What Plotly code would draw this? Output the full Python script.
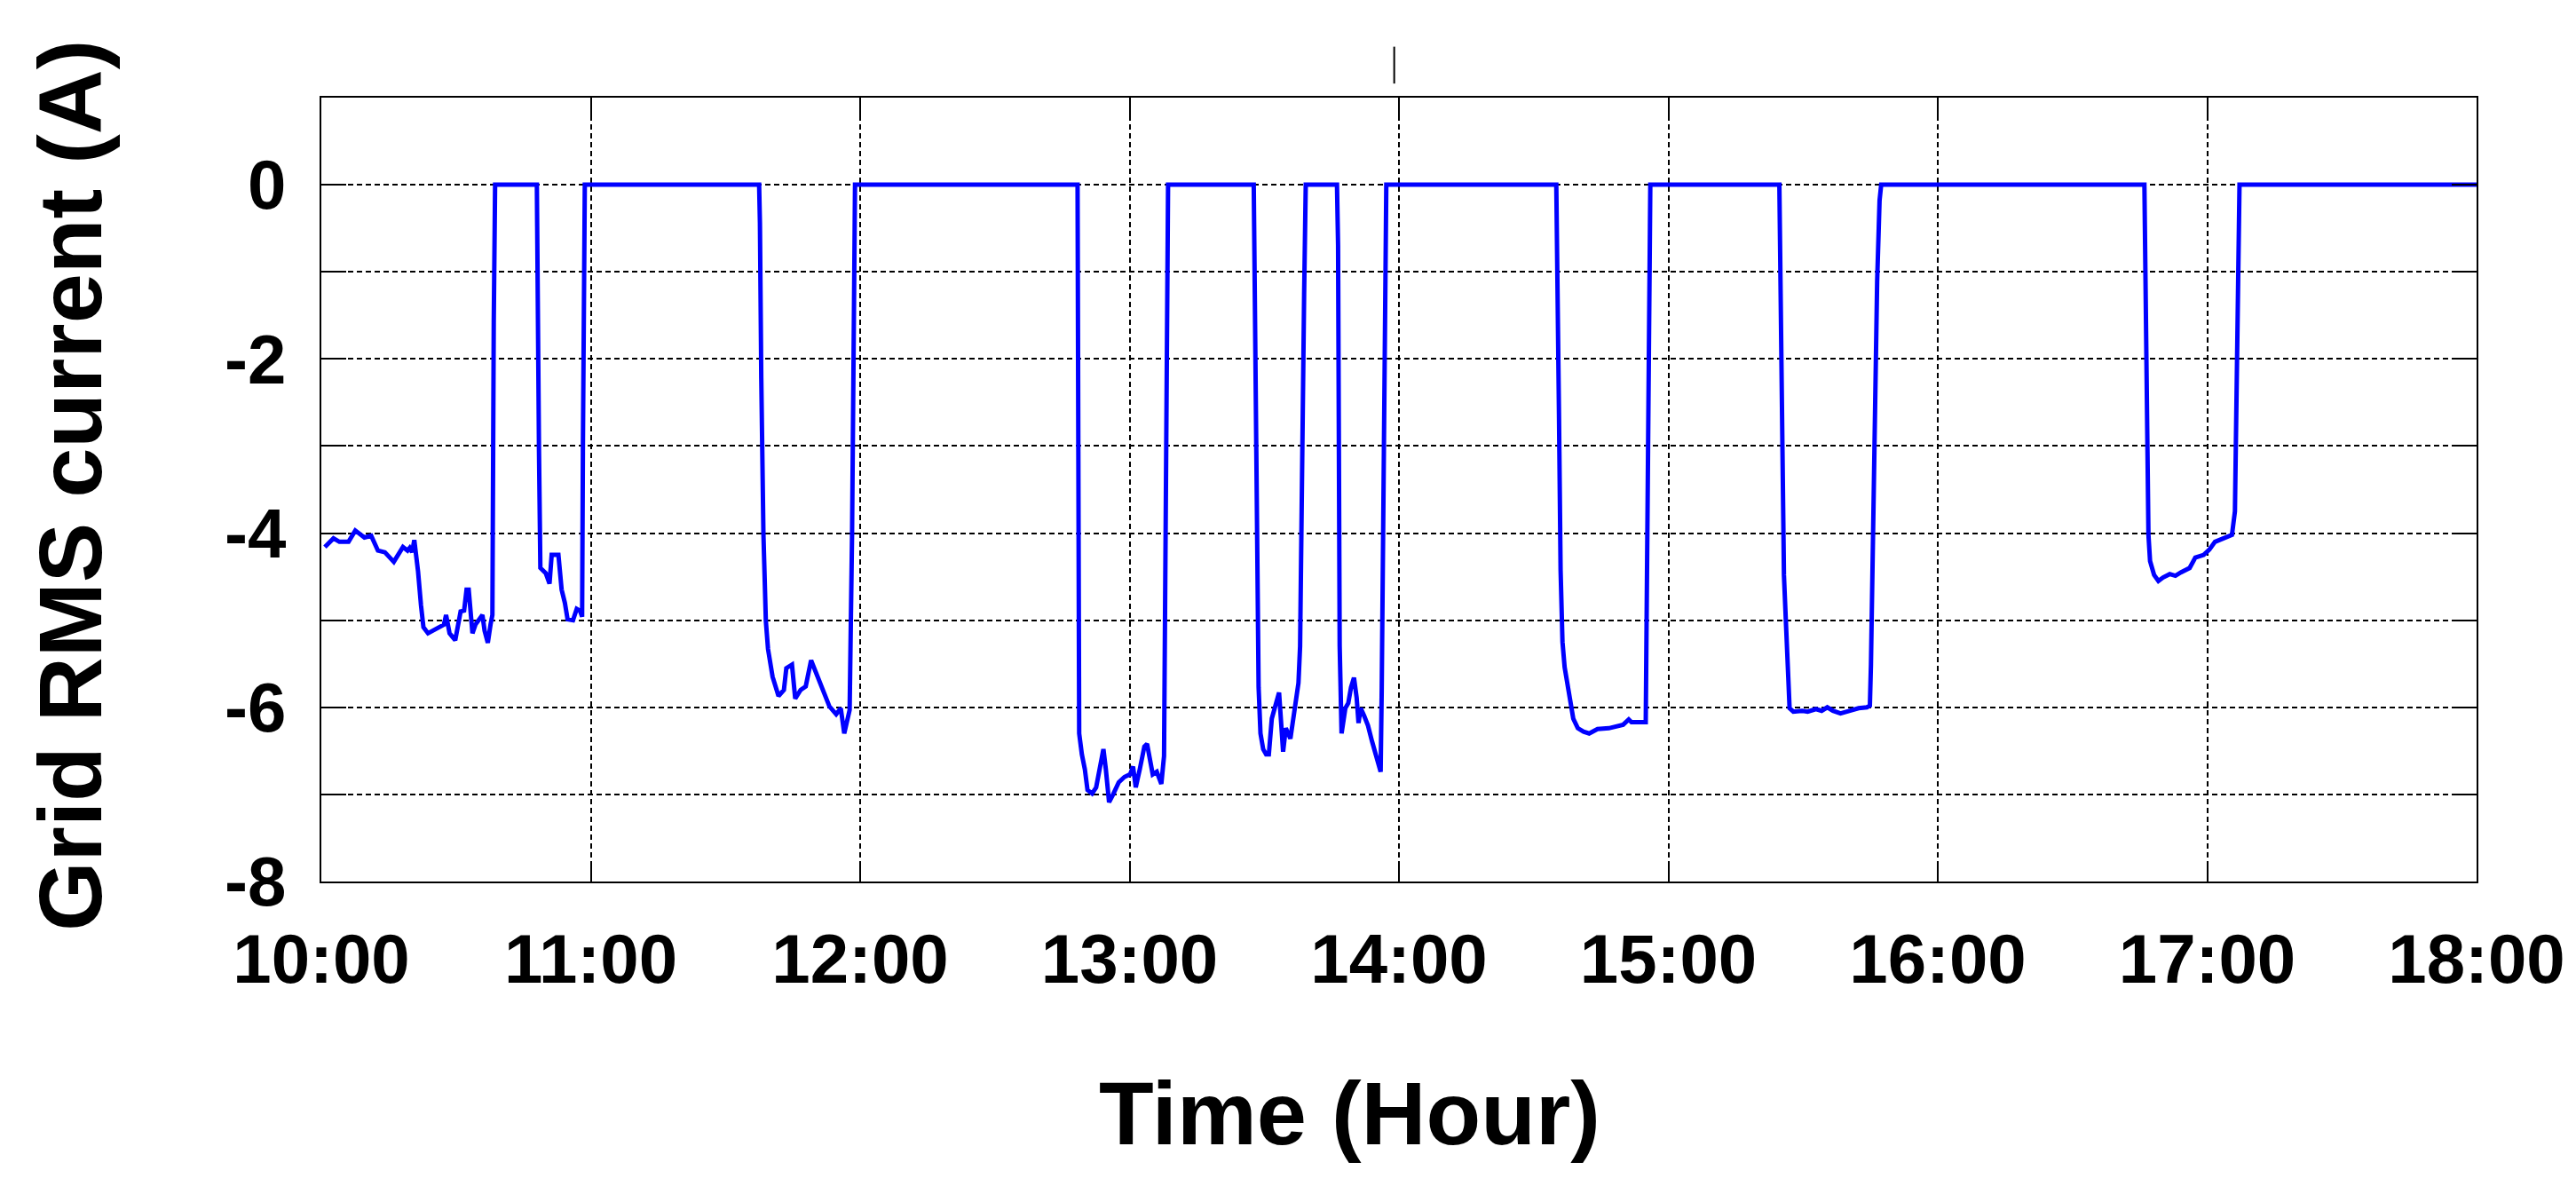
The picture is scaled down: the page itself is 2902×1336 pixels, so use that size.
import plotly.graph_objects as go

# grid current (A) vs time of day (hours), one list per discharge event
ev1_t = [10.013, 10.045, 10.067, 10.101, 10.126, 10.160, 10.185, 10.210, 10.236, 10.269,
         10.303, 10.320, 10.328, 10.337, 10.345, 10.359, 10.370, 10.379, 10.396, 10.429,
         10.455, 10.463, 10.476, 10.497, 10.517, 10.530, 10.539, 10.547, 10.561, 10.572,
         10.581, 10.598, 10.606, 10.618, 10.628, 10.635, 10.640, 10.645]
ev1_a = [-4.16, -4.06, -4.10, -4.10, -3.97, -4.05, -4.03, -4.20, -4.22, -4.33,
         -4.16, -4.20, -4.17, -4.22, -4.08, -4.44, -4.83, -5.08, -5.15, -5.10,
         -5.05, -4.94, -5.15, -5.23, -4.90, -4.89, -4.65, -4.65, -5.15, -5.05,
         -5.01, -4.94, -5.12, -5.26, -5.05, -4.94, -1.58, 0]

ev2_t = [10.800, 10.803, 10.808, 10.813, 10.833, 10.847, 10.855, 10.880, 10.892, 10.904,
         10.914, 10.934, 10.948, 10.960, 10.968, 10.971, 10.978]
ev2_a = [0, -1.51, -3.08, -4.40, -4.46, -4.58, -4.25, -4.25, -4.65, -4.80,
         -4.99, -5.00, -4.87, -4.89, -4.96, -2.97, 0]

ev3_t = [11.625, 11.628, 11.633, 11.641, 11.650, 11.658, 11.675, 11.697, 11.717, 11.726,
         11.747, 11.759, 11.779, 11.798, 11.818, 11.843, 11.869, 11.886, 11.911, 11.928,
         11.941, 11.953, 11.961, 11.970, 11.975, 11.981]
ev3_a = [0, -0.44, -2.22, -4.01, -5.01, -5.33, -5.65, -5.87, -5.80, -5.55,
         -5.51, -5.90, -5.80, -5.76, -5.46, -5.65, -5.83, -5.99, -6.08, -6.01,
         -6.30, -6.15, -6.03, -4.01, -1.89, 0]

ev4_t = [12.807, 12.809, 12.813, 12.823, 12.834, 12.844, 12.861, 12.876, 12.886, 12.903,
         12.912, 12.924, 12.939, 12.960, 12.981, 13.002, 13.013, 13.023, 13.038, 13.055,
         13.065, 13.076, 13.086, 13.101, 13.118, 13.128, 13.135, 13.143]
ev4_a = [0, -3.78, -6.30, -6.54, -6.71, -6.95, -6.99, -6.92, -6.77, -6.48,
         -6.71, -7.09, -7.00, -6.86, -6.80, -6.77, -6.68, -6.92, -6.71, -6.45,
         -6.42, -6.59, -6.77, -6.74, -6.88, -6.56, -4.10, 0]

ev5_t = [13.461, 13.465, 13.471, 13.479, 13.486, 13.496, 13.507, 13.517, 13.528, 13.543,
         13.555, 13.570, 13.580, 13.597, 13.612, 13.627, 13.633, 13.639, 13.648, 13.654]
ev5_a = [0, -1.14, -3.43, -5.77, -6.30, -6.48, -6.54, -6.54, -6.13, -5.98,
         -5.83, -6.51, -6.24, -6.36, -6.01, -5.72, -5.30, -3.28, -1.26, 0]

ev6_t = [13.770, 13.774, 13.780, 13.787, 13.801, 13.812, 13.822, 13.833, 13.843, 13.850,
         13.858, 13.871, 13.885, 13.900, 13.917, 13.932, 13.936, 13.942, 13.948, 13.953]
ev6_a = [0, -0.70, -5.30, -6.30, -6.01, -5.95, -5.77, -5.66, -5.89, -6.18,
         -6.01, -6.10, -6.21, -6.39, -6.56, -6.74, -5.80, -3.43, -1.03, 0]

ev7_t = [14.584, 14.586, 14.594, 14.600, 14.607, 14.615, 14.628, 14.638, 14.647, 14.664,
         14.685, 14.706, 14.737, 14.779, 14.811, 14.832, 14.853, 14.863, 14.916, 14.922,
         14.926, 14.933]
ev7_a = [0, -0.79, -2.64, -4.43, -5.25, -5.54, -5.77, -5.95, -6.13, -6.24,
         -6.28, -6.30, -6.25, -6.24, -6.21, -6.20, -6.14, -6.17, -6.17, -3.78,
         -1.52, 0]

ev8_t = [15.412, 15.416, 15.422, 15.429, 15.437, 15.443, 15.450, 15.464, 15.496, 15.517,
         15.548, 15.569, 15.590, 15.611, 15.639, 15.674, 15.706, 15.737, 15.748, 15.752,
         15.758, 15.765, 15.771, 15.775, 15.784, 15.790]
ev8_a = [0, -1.20, -2.84, -4.48, -5.07, -5.60, -6.01, -6.05, -6.04, -6.05,
         -6.02, -6.04, -6.00, -6.04, -6.07, -6.04, -6.01, -6.00, -5.98, -5.51,
         -4.31, -3.11, -2.05, -1.11, -0.18, 0]

ev9_t = [16.767, 16.771, 16.777, 16.782, 16.788, 16.803, 16.819, 16.836, 16.861, 16.882,
         16.903, 16.935, 16.956, 16.987, 17.008, 17.029, 17.061, 17.092, 17.103, 17.109,
         17.118, 17.120]
ev9_a = [0, -0.88, -2.46, -4.02, -4.32, -4.48, -4.55, -4.51, -4.47, -4.49,
         -4.45, -4.40, -4.28, -4.25, -4.19, -4.10, -4.06, -4.02, -3.75, -2.29,
         -0.82, 0]

end_t = [18.0]
end_a = [0]

x_ticks = [10, 11, 12, 13, 14, 15, 16, 17, 18]
x_labels = ["10:00", "11:00", "12:00", "13:00", "14:00", "15:00", "16:00", "17:00", "18:00"]
y_ticks = [-8, -7, -6, -5, -4, -3, -2, -1, 0]
y_labels = ["-8", "", "-6", "", "-4", "", "-2", "", "0"]

hours = ev1_t + ev2_t + ev3_t + ev4_t + ev5_t + ev6_t + ev7_t + ev8_t + ev9_t + end_t
current = ev1_a + ev2_a + ev3_a + ev4_a + ev5_a + ev6_a + ev7_a + ev8_a + ev9_a + end_a

FONT = "Arial, Liberation Sans, sans-serif"

fig = go.Figure()
fig.add_trace(go.Scatter(x=hours, y=current, mode="lines",
                         line=dict(color="#0000ff", width=5), showlegend=False))

axis_common = dict(
    showline=True, linecolor="black", linewidth=2, mirror="ticks",
    ticks="inside", tickcolor="black", tickwidth=2,
    showgrid=True, gridcolor="black", gridwidth=1.5, griddash="6px,4px",
    zeroline=False,
    tickfont=dict(family=FONT, size=78, color="black", weight="bold"),
)

fig.update_xaxes(range=[10, 18], tickmode="array", tickvals=x_ticks, ticktext=x_labels,
                 ticklen=20, ticklabelstandoff=18, **axis_common)
fig.update_yaxes(range=[-8, 1], tickmode="array", tickvals=y_ticks, ticktext=y_labels,
                 ticklen=28, ticklabelstandoff=22, **axis_common)

fig.update_layout(
    width=2902, height=1336,
    margin=dict(l=354, r=120, t=102, b=351),
    plot_bgcolor="white", paper_bgcolor="white",
    annotations=[
        dict(text="Time (Hour)", xref="paper", yref="paper", x=0.477, y=-0.2955,
             xanchor="center", yanchor="middle", showarrow=False,
             font=dict(family=FONT, size=101, color="black", weight="bold")),
        dict(text="Grid RMS current (A)", xref="paper", yref="paper", x=-0.1166, y=0.505,
             xanchor="center", yanchor="middle", textangle=-90, showarrow=False,
             font=dict(family=FONT, size=101, color="black", weight="bold")),
    ],
    # small stray tick above the frame near 14:00 in the original
    shapes=[dict(type="line", xref="paper", yref="paper", x0=0.4978, x1=0.4978,
                 y0=1.018, y1=1.065, line=dict(color="black", width=2))],
)

fig.write_html("out.html")
